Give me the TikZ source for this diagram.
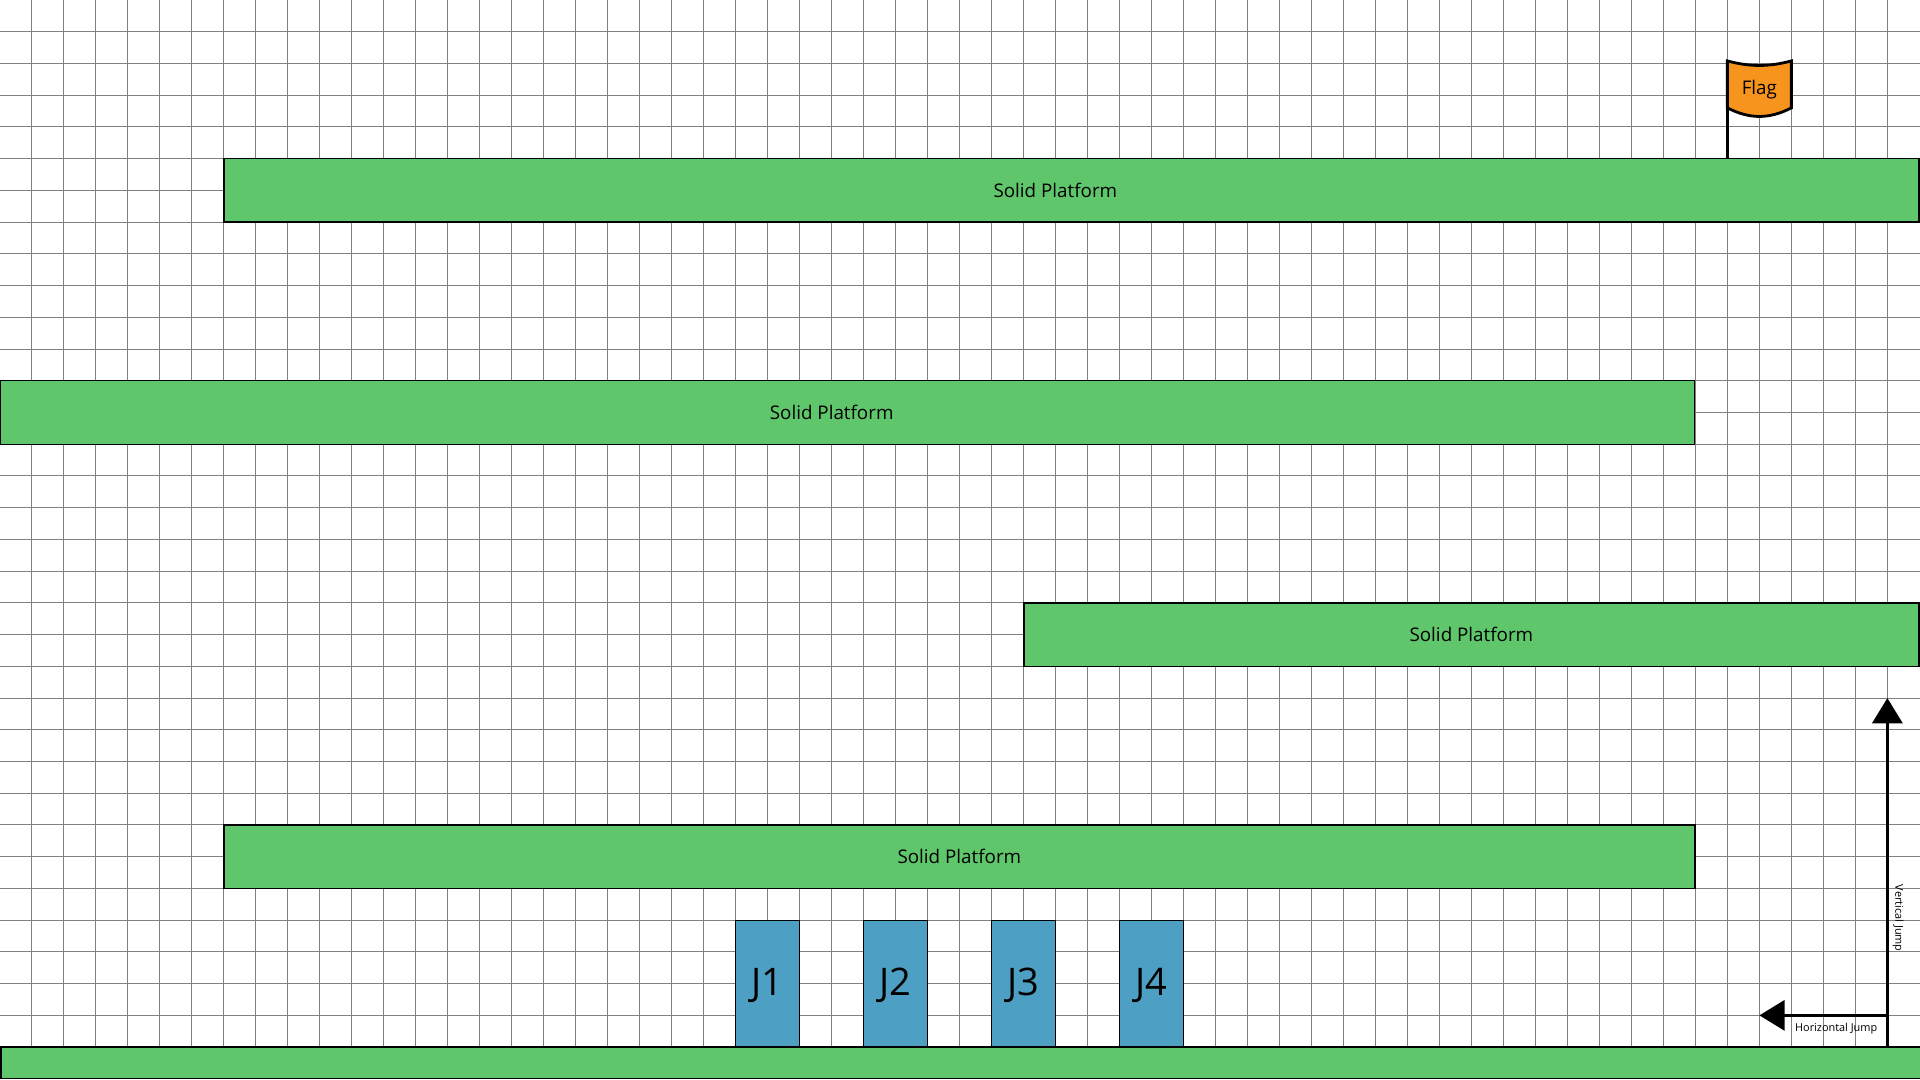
\documentclass[tikz,border=0pt]{standalone}
\usepackage{fontspec}
\setmainfont{Open Sans}
\usetikzlibrary{arrows.meta, positioning}
\definecolor{platgreen}{HTML}{5FC66C}
\definecolor{jumpblue}{HTML}{4E9FC4}
\definecolor{flagorange}{HTML}{F7941E}
\begin{document}
\begin{tikzpicture}[x=16pt, y=-15.865pt]
	\tikzstyle{gridline}=[draw=black!50, line width=0.5pt]
	\tikzstyle{platform}=[
	rectangle, draw=black, fill=platgreen, line width=0.65pt,
	minimum height=31.73pt, inner sep=0pt, outer sep=0pt
	]
	\tikzstyle{jumper}=[
	rectangle, draw=black, fill=jumpblue, line width=0.65pt,
	minimum width=32pt, minimum height=63.46pt, inner sep=0pt, outer sep=0pt
	]
	\tikzstyle{jumptext}=[font=\fontsize{19}{22}\selectfont, yshift=-1pt]
	\tikzstyle{plattext}=[font=\fontsize{9.4}{11}\selectfont]
	\tikzstyle{smalltext}=[font=\fontsize{5.45}{6}\selectfont, inner sep=0pt]
	\tikzstyle{jump}=[line width=1.6pt, -{Triangle[length=12.6pt, width=15pt]}]

	\useasboundingbox (0.02,0) rectangle (60.02,34.037);

	% grid
	\foreach \i in {1,...,59} \draw[gridline] (\i,0) -- (\i,34);
	\foreach \j in {1,...,33} \draw[gridline] (0,\j) -- (61,\j);

	% platforms
	\node[platform, minimum width=847.5pt, label={[plattext, xshift=-8pt]center:Solid Platform}] (plat1) at (33.5,6) {};
	\node[platform, minimum width=847pt, label={[plattext, xshift=-8pt]center:Solid Platform}] (plat2) at (26.51,13) {};
	\node[platform, minimum width=447.5pt, label={[plattext]center:Solid Platform}] (plat3) at (46,20) {};
	\node[platform, minimum width=735.5pt, label={[plattext]center:Solid Platform}] (plat4) at (30,27) {};
	\node[platform, minimum width=960pt, minimum height=15.865pt] (ground) at (30.05,33.5) {};

	% jumpers
	\node[jumper, label={[jumptext]center:J1}] (j1) at (24,31) {};
	\node[jumper, right=32pt of j1, label={[jumptext]center:J2}] (j2) {};
	\node[jumper, right=32pt of j2, label={[jumptext]center:J3}] (j3) {};
	\node[jumper, right=32pt of j3, label={[jumptext]center:J4}] (j4) {};

	% flag
	\coordinate (poletop) at (54,1.92);
	\draw[fill=flagorange, line width=1.4pt] (poletop) .. controls (54.7,2.11) and (55.3,2.11) .. (56,1.92)
		-- (56,3.4) .. controls (55.3,3.76) and (54.7,3.76) .. (54,3.4) -- cycle;
	\node[plattext] (flag) at (55,2.83) {Flag};
	\draw[line width=1.4pt] (poletop) -- (poletop |- plat1.north);

	% jump arrows
	\coordinate (vtop) at (59,22);
	\coordinate (hstart) at (59,32);
	\coordinate (hend) at (55,32);
	\draw[jump] (vtop |- ground.north) -- (vtop);
	\draw[jump] (hstart) -- (hend);
	\node[smalltext, rotate=-90] (vlabel) at (59.34,28.94) {Vertical Jump};
	\node[smalltext] (hlabel) at (57.4,32.41) {Horizontal Jump};
\end{tikzpicture}
\end{document}
